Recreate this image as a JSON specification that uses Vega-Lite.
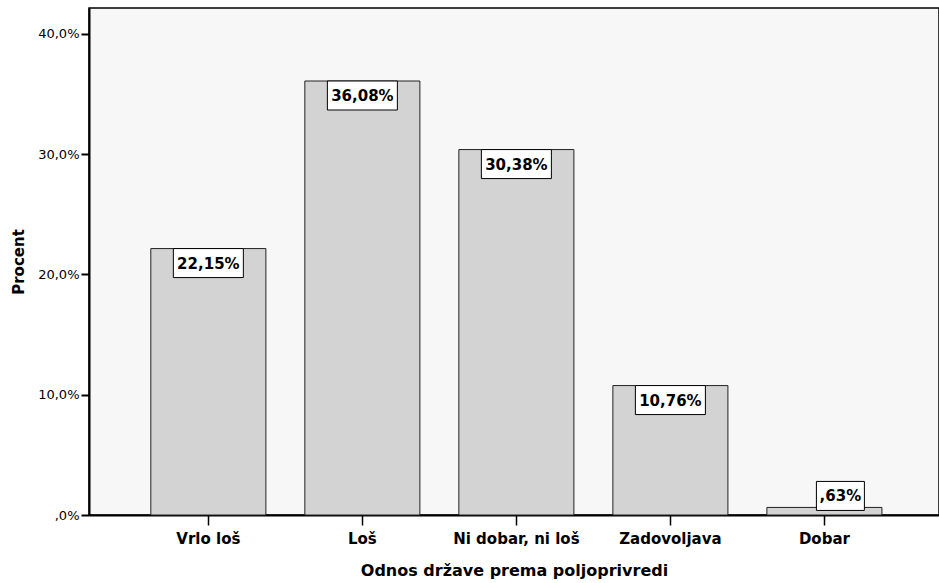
{
  "$schema": "https://vega.github.io/schema/vega-lite/v6.json",
  "autosize": "none",
  "padding": {"left": 89, "top": 8, "right": 0, "bottom": 68},
  "width": 850,
  "height": 507,
  "background": "#ffffff",
  "config": {
    "view": {"fill": "#f7f7f7", "stroke": "#000000", "strokeWidth": 1.5},
    "axis": {"grid": false, "domainColor": "#000000", "tickColor": "#000000", "labelColor": "#000000", "titleColor": "#000000"}
  },
  "data": {
    "values": [
      {"kategorija": "Vrlo loš", "procent": 22.15, "oznaka": "22,15%"},
      {"kategorija": "Loš", "procent": 36.08, "oznaka": "36,08%"},
      {"kategorija": "Ni dobar, ni loš", "procent": 30.38, "oznaka": "30,38%"},
      {"kategorija": "Zadovoljava", "procent": 10.76, "oznaka": "10,76%"},
      {"kategorija": "Dobar", "procent": 0.63, "oznaka": ",63%"}
    ]
  },
  "encoding": {
    "x": {
      "field": "kategorija",
      "type": "nominal",
      "sort": null,
      "scale": {"paddingInner": 0.253, "paddingOuter": 0.386, "align": 0.52},
      "axis": {
        "title": "Odnos države prema poljoprivredi",
        "titleFont": "DejaVu Sans",
        "titleFontWeight": "bold",
        "titleFontSize": 16,
        "titlePadding": 16,
        "labelFont": "DejaVu Sans",
        "labelFontWeight": "bold",
        "labelFontSize": 15,
        "labelAngle": 0,
        "labelPadding": 6,
        "tickSize": 10,
        "tickWidth": 1.5,
        "domainWidth": 2
      }
    },
    "y": {
      "field": "procent",
      "type": "quantitative",
      "scale": {"domain": [0, 42.15], "nice": false, "zero": true},
      "axis": {
        "title": "Procent",
        "titleFont": "DejaVu Sans",
        "titleFontWeight": "bold",
        "titleFontSize": 15,
        "titlePadding": 11,
        "labelFont": "DejaVu Sans",
        "labelFontSize": 13,
        "labelPadding": 2,
        "values": [0, 10, 20, 30, 40],
        "labelExpr": "datum.value == 0 ? ',0%' : replace(format(datum.value, '.1f'), '.', ',') + '%'",
        "tickSize": 8,
        "tickWidth": 2,
        "domainWidth": 2
      }
    }
  },
  "layer": [
    {
      "mark": {"type": "bar", "fill": "#d3d3d3", "stroke": "#222222", "strokeWidth": 1}
    },
    {
      "transform": [{"filter": "datum.procent >= 3"}],
      "mark": {"type": "point", "shape": "M-2.414,-1L2.414,-1L2.414,1L-2.414,1Z", "size": 841, "filled": true, "fill": "#ffffff", "stroke": "#000000", "strokeWidth": 1, "opacity": 1, "yOffset": 14.5}
    },
    {
      "transform": [{"filter": "datum.procent >= 3"}],
      "mark": {"type": "text", "font": "DejaVu Sans", "fontWeight": "bold", "fontSize": 15, "color": "#000000", "baseline": "middle", "align": "center", "yOffset": 15},
      "encoding": {"text": {"field": "oznaka"}}
    },
    {
      "transform": [{"filter": "datum.procent < 3"}],
      "mark": {"type": "point", "shape": "M-1.655,-1L1.655,-1L1.655,1L-1.655,1Z", "size": 841, "filled": true, "fill": "#ffffff", "stroke": "#000000", "strokeWidth": 1, "opacity": 1, "yOffset": -11.5, "xOffset": 16}
    },
    {
      "transform": [{"filter": "datum.procent < 3"}],
      "mark": {"type": "text", "font": "DejaVu Sans", "fontWeight": "bold", "fontSize": 15, "color": "#000000", "baseline": "middle", "align": "center", "yOffset": -11, "xOffset": 16},
      "encoding": {"text": {"field": "oznaka"}}
    }
  ]
}
